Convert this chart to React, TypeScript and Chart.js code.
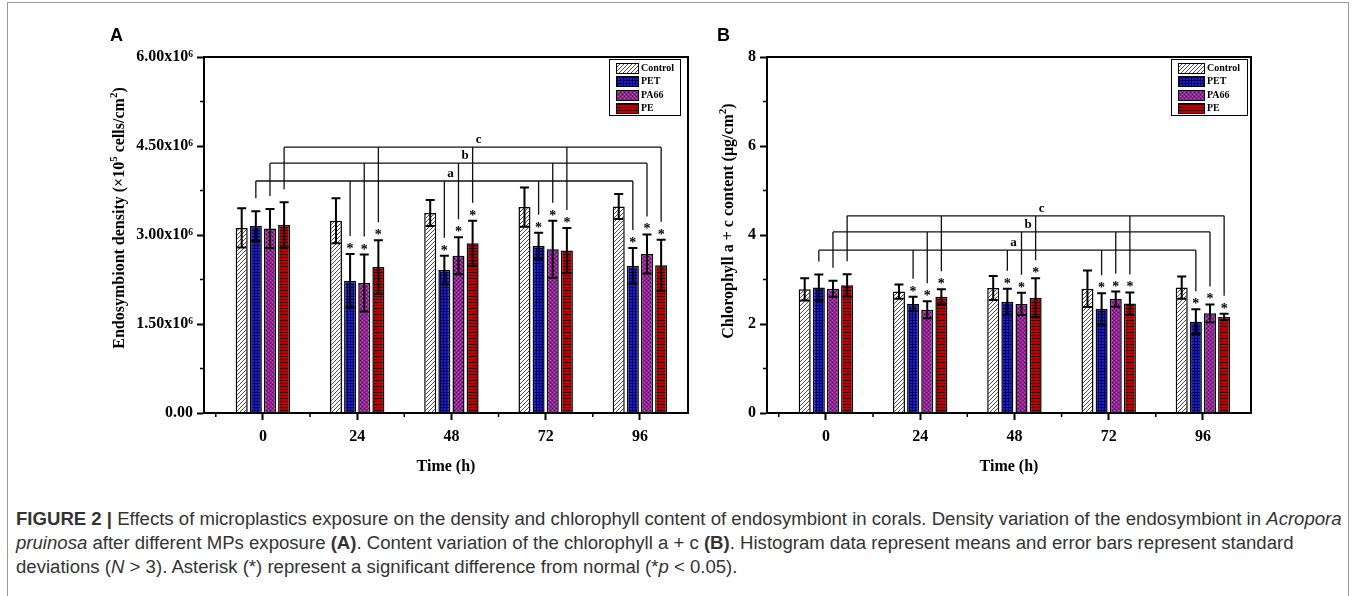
import React, { useEffect, useLayoutEffect, useRef, useState } from 'react';
import { Chart, registerables } from 'chart.js';

Chart.register(...registerables);

// ---------- data ----------
const timeLabels = ['0', '24', '48', '72', '96'];
const seriesNames = ['Control', 'PET', 'PA66', 'PE'];

// Panel A: endosymbiont density (cells/cm2)
const densityControl = [3.12e6, 3.24e6, 3.37e6, 3.47e6, 3.48e6];
const densityControlSd = [0.33e6, 0.38e6, 0.22e6, 0.33e6, 0.21e6];
const densityPET = [3.15e6, 2.23e6, 2.41e6, 2.82e6, 2.48e6];
const densityPETSd = [0.25e6, 0.45e6, 0.24e6, 0.22e6, 0.3e6];
const densityPA66 = [3.11e6, 2.19e6, 2.65e6, 2.76e6, 2.68e6];
const densityPA66Sd = [0.33e6, 0.48e6, 0.31e6, 0.48e6, 0.33e6];
const densityPE = [3.17e6, 2.46e6, 2.86e6, 2.74e6, 2.49e6];
const densityPESd = [0.38e6, 0.45e6, 0.38e6, 0.38e6, 0.43e6];
const densityTicks = [0, 1.5e6, 3e6, 4.5e6, 6e6];
const densityMinorTicks = [0.75e6, 2.25e6, 3.75e6, 5.25e6];
const densityBracketLevels = [3.91e6, 4.21e6, 4.48e6];

// Panel B: chlorophyll a + c content (ug/cm2)
const chlControl = [2.78, 2.73, 2.81, 2.79, 2.82];
const chlControlSd = [0.25, 0.16, 0.27, 0.41, 0.25];
const chlPET = [2.82, 2.45, 2.5, 2.34, 2.05];
const chlPETSd = [0.29, 0.16, 0.29, 0.35, 0.28];
const chlPA66 = [2.79, 2.32, 2.45, 2.56, 2.24];
const chlPA66Sd = [0.18, 0.19, 0.25, 0.17, 0.2];
const chlPE = [2.87, 2.61, 2.59, 2.46, 2.16];
const chlPESd = [0.25, 0.17, 0.44, 0.25, 0.07];
const chlTicks = [0, 2, 4, 6, 8];
const chlMinorTicks = [1, 3, 5, 7];
const chlBracketLevels = [3.66, 4.07, 4.43];

// treatment significantly different from normal (asterisk), per time point
const significant = [false, true, true, true, true];
const bracketLabels = ['a', 'b', 'c'];

const SERIF = '"Liberation Serif", "Times New Roman", serif';
const SANS = '"Liberation Sans", Arial, sans-serif';

type Seg = [string, boolean];
type PanelCfg = {
  means: number[][];
  sds: number[][];
  yMax: number;
  yTicks: number[];
  yMinor: number[];
  tickLabel: (v: number) => string;
  bracketLevels: number[];
  title: Seg[];
  titleX: number;
  titleY: number;
  yAxisWidth: number;
  padRight: number;
  legendWidth: number;
  legendInset: number;
  swatchW: number;
};

const panelA: PanelCfg = {
  means: [densityControl, densityPET, densityPA66, densityPE],
  sds: [densityControlSd, densityPETSd, densityPA66Sd, densityPESd],
  yMax: 6e6,
  yTicks: densityTicks,
  yMinor: densityMinorTicks,
  tickLabel: (v) => (v === 0 ? '0.00' : `${(v / 1e6).toFixed(2)}x10\u2076`),
  bracketLevels: densityBracketLevels,
  title: [
    ['Endosymbiont density (\u00d710', false],
    ['5', true],
    [' cells/cm', false],
    ['2', true],
    [')', false],
  ],
  titleX: 118,
  titleY: 218,
  yAxisWidth: 204,
  padRight: 6,
  legendWidth: 71,
  legendInset: 8,
  swatchW: 22,
};

const panelB: PanelCfg = {
  means: [chlControl, chlPET, chlPA66, chlPE],
  sds: [chlControlSd, chlPETSd, chlPA66Sd, chlPESd],
  yMax: 8,
  yTicks: chlTicks,
  yMinor: chlMinorTicks,
  tickLabel: (v) => String(v),
  bracketLevels: chlBracketLevels,
  title: [
    ['Chlorophyll a + c content (\u03bcg/cm', false],
    ['2', true],
    [')', false],
  ],
  titleX: 33,
  titleY: 221,
  yAxisWidth: 73,
  padRight: 106,
  legendWidth: 76,
  legendInset: 4,
  swatchW: 26,
};

function tile(w: number, h: number, draw: (g: CanvasRenderingContext2D) => void): CanvasPattern {
  const c = document.createElement('canvas');
  c.width = w;
  c.height = h;
  const g = c.getContext('2d')!;
  draw(g);
  return g.createPattern(c, 'repeat')!;
}

function makePatterns(): CanvasPattern[] {
  return [
    tile(4, 4, (g) => {
      g.fillStyle = '#ffffff';
      g.fillRect(0, 0, 4, 4);
      g.strokeStyle = '#4a4a4a';
      g.lineWidth = 1;
      g.beginPath();
      g.moveTo(0, 4);
      g.lineTo(4, 0);
      g.moveTo(-1, 1);
      g.lineTo(1, -1);
      g.moveTo(3, 5);
      g.lineTo(5, 3);
      g.stroke();
    }),
    tile(3, 3, (g) => {
      g.fillStyle = '#2020c8';
      g.fillRect(0, 0, 3, 3);
      g.fillStyle = '#000060';
      g.fillRect(0, 2, 3, 1);
      g.fillRect(2, 0, 1, 3);
    }),
    tile(4, 4, (g) => {
      g.fillStyle = '#9c1c9c';
      g.fillRect(0, 0, 4, 4);
      g.fillStyle = '#3a003a';
      g.fillRect(0, 0, 1, 1);
      g.fillRect(2, 2, 1, 1);
      g.fillStyle = '#c850c8';
      g.fillRect(2, 0, 1, 1);
      g.fillRect(0, 2, 1, 1);
    }),
    tile(3, 3, (g) => {
      g.fillStyle = '#b80000';
      g.fillRect(0, 0, 3, 3);
      g.fillStyle = '#400000';
      g.fillRect(0, 2, 3, 1);
    }),
  ];
}

function drawRotatedTitle(ctx: CanvasRenderingContext2D, segs: Seg[], cx: number, cy: number, size: number) {
  ctx.save();
  ctx.translate(cx, cy);
  ctx.rotate(-Math.PI / 2);
  const main = `bold ${size}px ${SERIF}`;
  const sup = `bold ${Math.round(size * 0.68)}px ${SERIF}`;
  let total = 0;
  segs.forEach(([t, s]) => {
    ctx.font = s ? sup : main;
    total += ctx.measureText(t).width;
  });
  let xx = -total / 2;
  ctx.textAlign = 'left';
  ctx.textBaseline = 'alphabetic';
  ctx.fillStyle = '#000';
  const base = size * 0.35;
  segs.forEach(([t, s]) => {
    ctx.font = s ? sup : main;
    ctx.fillText(t, xx, s ? base - size * 0.42 : base);
    xx += ctx.measureText(t).width;
  });
  ctx.restore();
}

function PanelChart({ cfg, left, width }: { cfg: PanelCfg; left: number; width: number }) {
  const ref = useRef<HTMLCanvasElement>(null);
  const height = 480;

  useEffect(() => {
    if (!ref.current) return;
    const patterns = makePatterns();

    const decor = {
      id: 'decor',
      afterDatasetsDraw(chart: any) {
        const ctx: CanvasRenderingContext2D = chart.ctx;
        const y = chart.scales.y;
        ctx.save();
        // error bars + asterisks
        chart.data.datasets.forEach((_ds: any, di: number) => {
          const meta = chart.getDatasetMeta(di);
          meta.data.forEach((bar: any, k: number) => {
            const m = cfg.means[di][k];
            const sd = cfg.sds[di][k];
            const yt = y.getPixelForValue(m + sd);
            const yb = y.getPixelForValue(m - sd);
            ctx.strokeStyle = '#000';
            ctx.lineWidth = 2;
            ctx.beginPath();
            ctx.moveTo(bar.x, yt);
            ctx.lineTo(bar.x, yb);
            ctx.moveTo(bar.x - 4.5, yt);
            ctx.lineTo(bar.x + 4.5, yt);
            ctx.moveTo(bar.x - 4.5, yb);
            ctx.lineTo(bar.x + 4.5, yb);
            ctx.stroke();
            if (di > 0 && significant[k]) {
              ctx.fillStyle = '#000';
              ctx.font = `bold 14px ${SERIF}`;
              ctx.textAlign = 'center';
              ctx.textBaseline = 'alphabetic';
              ctx.fillText('*', bar.x, yt - 1);
            }
          });
        });
        // comparison brackets
        cfg.bracketLevels.forEach((lv, j) => {
          const di = j + 1;
          const meta = chart.getDatasetMeta(di);
          const ly = y.getPixelForValue(lv);
          const xs = meta.data.map((b: any) => b.x);
          ctx.strokeStyle = '#111';
          ctx.lineWidth = 1.3;
          ctx.beginPath();
          ctx.moveTo(xs[0], ly);
          ctx.lineTo(xs[xs.length - 1], ly);
          xs.forEach((xx: number, k: number) => {
            const top = y.getPixelForValue(cfg.means[di][k] + cfg.sds[di][k]);
            const end = top - (significant[k] ? 18 : 13);
            ctx.moveTo(xx, ly);
            ctx.lineTo(xx, end);
          });
          ctx.stroke();
          ctx.fillStyle = '#000';
          ctx.font = `bold 13px ${SERIF}`;
          ctx.textAlign = 'left';
          ctx.textBaseline = 'alphabetic';
          ctx.fillText(bracketLabels[j], xs[2] + 3, ly - 4);
        });
        ctx.restore();
      },
      afterDraw(chart: any) {
        const ctx: CanvasRenderingContext2D = chart.ctx;
        const a = chart.chartArea;
        const x = chart.scales.x;
        const y = chart.scales.y;
        ctx.save();
        // frame
        ctx.strokeStyle = '#000';
        ctx.lineWidth = 2;
        ctx.strokeRect(a.left, a.top, a.right - a.left, a.bottom - a.top);
        // minor ticks
        ctx.lineWidth = 1.5;
        ctx.beginPath();
        for (let i = 0; i <= timeLabels.length; i++) {
          const px = x.getPixelForValue(i - 0.5);
          if (px < a.left + 1 || px > a.right - 1) continue;
          ctx.moveTo(px, a.bottom);
          ctx.lineTo(px, a.bottom + 4);
        }
        cfg.yMinor.forEach((v) => {
          const py = y.getPixelForValue(v);
          ctx.moveTo(a.left, py);
          ctx.lineTo(a.left - 4, py);
        });
        ctx.stroke();
        // y title
        drawRotatedTitle(ctx, cfg.title, cfg.titleX, cfg.titleY, 16);
        // legend
        const bw = cfg.legendWidth;
        const bh = 56;
        const bx = Math.round(a.right - cfg.legendInset - bw);
        const by = Math.round(a.top + 2);
        ctx.fillStyle = '#fff';
        ctx.fillRect(bx, by, bw, bh);
        ctx.strokeStyle = '#000';
        ctx.lineWidth = 1;
        ctx.strokeRect(bx + 0.5, by + 0.5, bw, bh);
        chart.data.datasets.forEach((ds: any, i: number) => {
          const cy = Math.round(by + 9 + i * 13.3);
          ctx.fillStyle = ds.backgroundColor;
          ctx.fillRect(bx + 7, cy - 5, cfg.swatchW, 10);
          ctx.strokeStyle = '#000';
          ctx.lineWidth = 1;
          ctx.strokeRect(bx + 7.5, cy - 4.5, cfg.swatchW, 10);
          ctx.fillStyle = '#000';
          ctx.font = `bold 10px ${SERIF}`;
          ctx.textAlign = 'left';
          ctx.textBaseline = 'middle';
          ctx.fillText(ds.label, bx + 7 + cfg.swatchW + 3, cy + 0.5);
        });
        ctx.restore();
      },
    };

    const chart = new Chart(ref.current, {
      type: 'bar',
      data: {
        datasets: seriesNames.map((name, i) => ({
          label: name,
          data: cfg.means[i].map((v, k) => ({ x: k, y: v })),
          backgroundColor: patterns[i] as any,
          borderColor: '#000',
          borderWidth: 1.5,
          categoryPercentage: 0.6,
          barPercentage: 0.85,
        })),
      },
      options: {
        responsive: false,
        animation: false,
        events: [],
        layout: { padding: { left: 0, right: cfg.padRight, top: 57, bottom: 4 } },
        plugins: { legend: { display: false }, tooltip: { enabled: false } },
        scales: {
          x: {
            type: 'linear',
            min: -0.625,
            max: 4.51,
            offset: false,
            afterBuildTicks: (s: any) => {
              s.ticks = timeLabels.map((_, i) => ({ value: i }));
            },
            afterFit: (s: any) => {
              s.height = 63;
            },
            ticks: {
              autoSkip: false,
              maxRotation: 0,
              padding: 7,
              color: '#000',
              font: { family: SERIF, size: 16, weight: 'bold' },
              callback: (v: any) => timeLabels[Math.round(Number(v))] ?? '',
            },
            grid: { offset: false, drawOnChartArea: false, drawTicks: true, tickLength: 7, tickWidth: 2, tickColor: '#000' },
            border: { display: true, color: '#000', width: 2 },
            title: {
              display: true,
              text: 'Time (h)',
              color: '#000',
              padding: 0,
              font: { family: SERIF, size: 16, weight: 'bold' },
            },
          },
          y: {
            min: 0,
            max: cfg.yMax,
            afterBuildTicks: (s: any) => {
              s.ticks = cfg.yTicks.map((v) => ({ value: v }));
            },
            afterFit: (s: any) => {
              s.width = cfg.yAxisWidth;
            },
            ticks: {
              padding: 4,
              color: '#000',
              font: { family: SERIF, size: 16, weight: 'bold' },
              callback: (v: any) => cfg.tickLabel(Number(v)),
            },
            grid: { drawOnChartArea: false, drawTicks: true, tickLength: 7, tickWidth: 2, tickColor: '#000' },
            border: { display: true, color: '#000', width: 2 },
          },
        },
      } as any,
      plugins: [decor],
    });
    return () => chart.destroy();
  }, [cfg]);

  return (
    <canvas
      ref={ref}
      width={width}
      height={height}
      style={{ position: 'absolute', left, top: 0, width, height }}
    />
  );
}

function Caption() {
  const ref = useRef<HTMLSpanElement>(null);
  const [size, setSize] = useState(16);
  useLayoutEffect(() => {
    if (ref.current) {
      const w = ref.current.getBoundingClientRect().width;
      if (w > 0) setSize((16 * 1327) / w);
    }
  }, []);
  const line: React.CSSProperties = { whiteSpace: 'nowrap', height: 24, lineHeight: '24px' };
  return (
    <div
      style={{
        position: 'absolute',
        left: 16,
        top: 507,
        fontFamily: SANS,
        fontSize: size,
        color: '#333',
      }}
    >
      <div style={line}>
        <span ref={ref}>
          <b>FIGURE 2 |</b> Effects of microplastics exposure on the density and chlorophyll content of endosymbiont in
          corals. Density variation of the endosymbiont in <i>Acropora</i>
        </span>
      </div>
      <div style={line}>
        <i>pruinosa</i> after different MPs exposure <b>(A)</b>. Content variation of the chlorophyll a + c <b>(B)</b>.
        Histogram data represent means and error bars represent standard
      </div>
      <div style={line}>
        deviations (<i>N</i> &gt; 3). Asterisk (*) represent a significant difference from normal (*<i>p</i> &lt; 0.05).
      </div>
    </div>
  );
}

export default function App() {
  return (
    <div
      style={{
        position: 'absolute',
        left: 0,
        top: 0,
        width: 1357,
        height: 596,
        background: '#fff',
        overflow: 'hidden',
      }}
    >
      <div
        style={{
          position: 'absolute',
          left: 7,
          top: 2,
          width: 1342,
          height: 620,
          border: '1px solid #9a9a9a',
          boxSizing: 'border-box',
        }}
      />
      <PanelChart cfg={panelA} left={0} width={694} />
      <PanelChart cfg={panelB} left={694} width={663} />
      <div style={{ position: 'absolute', left: 110, top: 25, font: `bold 18px ${SANS}`, color: '#000' }}>A</div>
      <div style={{ position: 'absolute', left: 717, top: 25, font: `bold 18px ${SANS}`, color: '#000' }}>B</div>
      <Caption />
    </div>
  );
}
